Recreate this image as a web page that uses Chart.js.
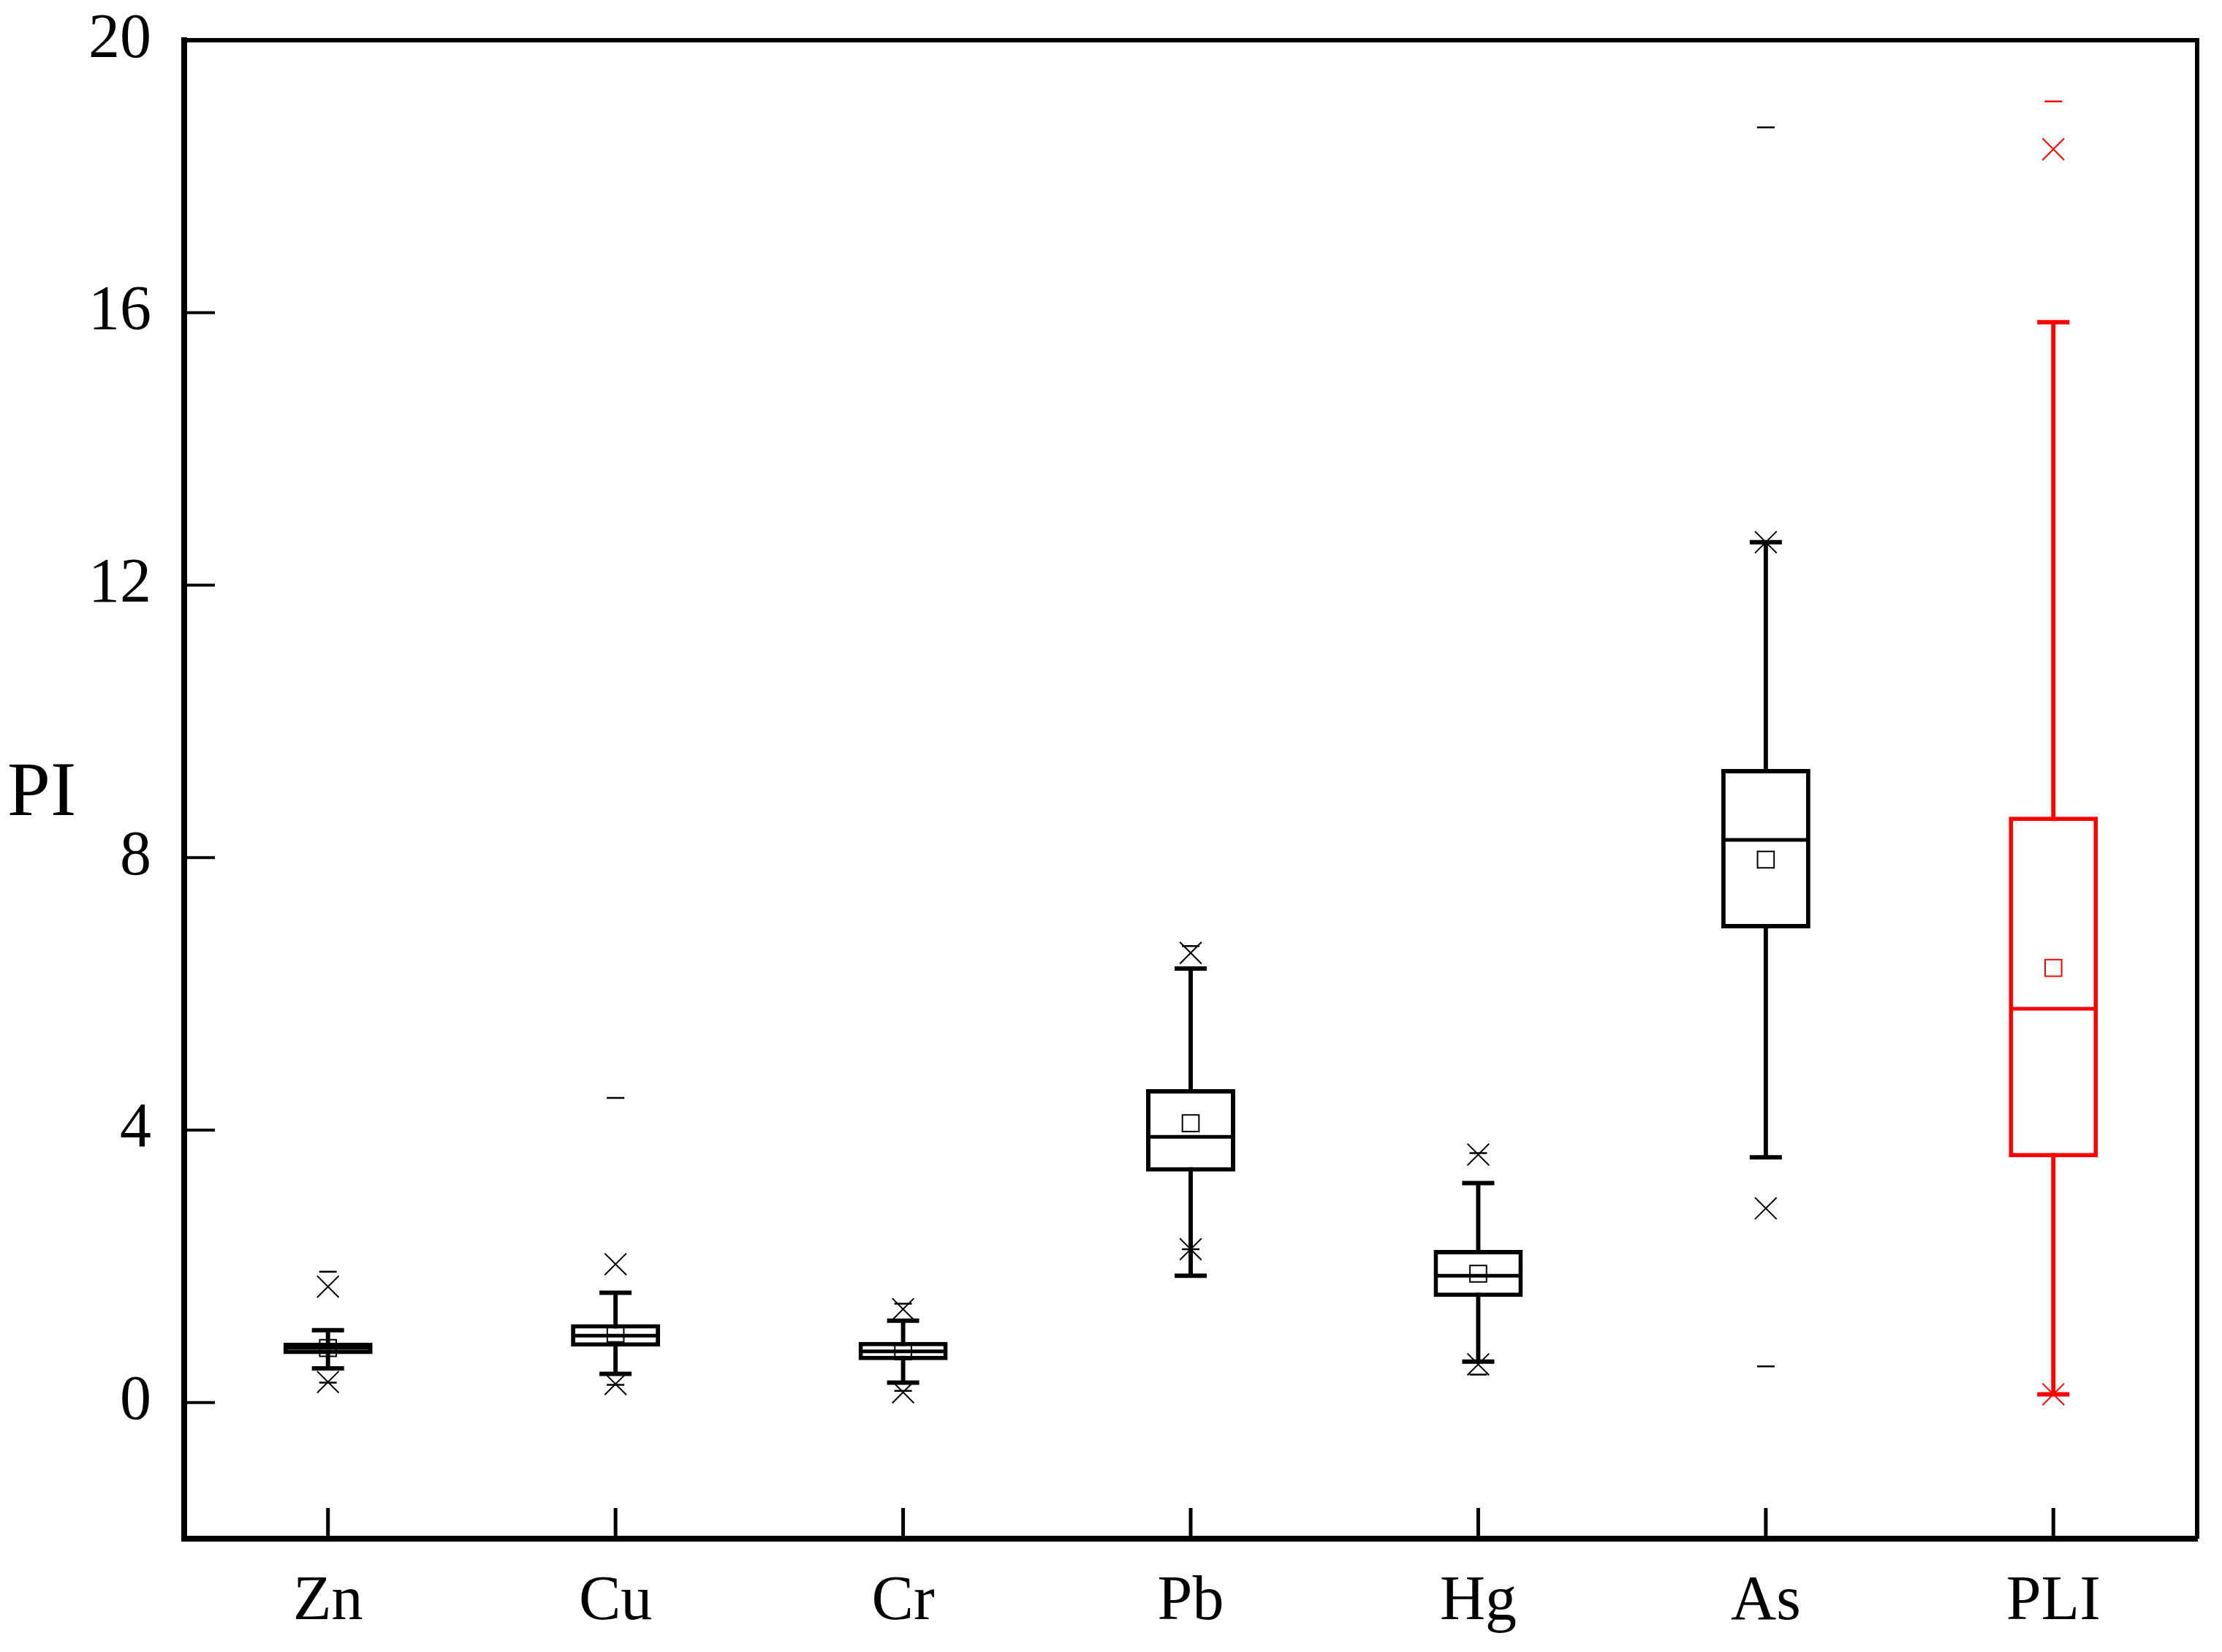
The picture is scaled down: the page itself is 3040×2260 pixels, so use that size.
<!DOCTYPE html>
<html>
<head>
<meta charset="utf-8">
<script src="https://cdn.jsdelivr.net/npm/chart.js@4.4.1/dist/chart.umd.min.js"></script>
<style>
  html, body { margin: 0; padding: 0; background: #fff; }
  #wrap { width: 3040px; height: 2260px; }
</style>
</head>
<body>
<div id="wrap"><canvas id="boxChart" width="3040" height="2260"></canvas></div>
<script>
const categories = ['Zn', 'Cu', 'Cr', 'Pb', 'Hg', 'As', 'PLI'];
const q1 = [0.71, 0.82, 0.62, 3.39, 1.55, 6.96, 3.60];
const q3 = [0.88, 1.15, 0.89, 4.60, 2.24, 9.30, 8.60];
const medians = [0.80, 0.98, 0.75, 3.90, 1.86, 8.26, 5.78];
const means = [0.80, 1.01, 0.75, 4.10, 1.89, 7.97, 6.38];
const whiskerLow = [0.50, 0.42, 0.29, 1.86, 0.60, 3.60, 0.12];
const whiskerHigh = [1.06, 1.61, 1.20, 6.37, 3.22, 12.63, 15.86];
const pct1 = [0.30, 0.27, 0.15, 2.25, 0.56, 2.85, 0.12];
const pct99 = [1.70, 2.03, 1.37, 6.60, 3.64, 12.63, 18.40];
const minVals = [0.29, 0.26, 0.17, 2.25, 0.41, 0.53, 0.12];
const maxVals = [1.92, 4.47, 1.45, 6.70, 3.66, 18.72, 19.10];
const yTicks = [0, 4, 8, 12, 16, 20];
const yTitle = 'PI';

const colors = categories.map(c => c === 'PLI' ? '#ff0000' : '#000000');
const FONT = "'Liberation Serif', 'Times New Roman', serif";

function markers(values, style, radius, width, order) {
    return {
        type: 'line',
        data: values,
        showLine: false,
        pointStyle: style,
        pointRadius: radius,
        pointHoverRadius: radius,
        pointBorderWidth: width,
        pointBorderColor: colors,
        pointBackgroundColor: 'rgba(0,0,0,0)',
        order: order
    };
}

// scales should not push the plot area around, layout.padding decides it
function noScalePadding(scale) {
    scale.paddingTop = 0;
    scale.paddingBottom = 0;
    scale.paddingLeft = 0;
    scale.paddingRight = 0;
}

// inward ticks, top/right frame and the horizontal axis title
const framePlugin = {
    id: 'frame',
    afterDraw(chart) {
        const { ctx, chartArea, scales } = chart;
        ctx.save();
        ctx.strokeStyle = '#000';
        ctx.lineWidth = 6;
        ctx.beginPath();
        ctx.moveTo(chartArea.left, chartArea.top);
        ctx.lineTo(chartArea.right, chartArea.top);
        ctx.lineTo(chartArea.right, chartArea.bottom);
        ctx.stroke();

        ctx.lineWidth = 5;
        categories.forEach((c, i) => {
            const x = scales.x.getPixelForValue(i);
            ctx.beginPath();
            ctx.moveTo(x, chartArea.bottom);
            ctx.lineTo(x, chartArea.bottom - 42);
            ctx.stroke();
        });
        ctx.lineWidth = 4;
        yTicks.forEach(v => {
            const y = scales.y.getPixelForValue(v);
            ctx.beginPath();
            ctx.moveTo(chartArea.left, y);
            ctx.lineTo(chartArea.left + 42, y);
            ctx.stroke();
        });

        ctx.fillStyle = '#000';
        ctx.font = '106px ' + FONT;
        ctx.textAlign = 'left';
        ctx.textBaseline = 'alphabetic';
        ctx.fillText(yTitle, 10, (chartArea.top + chartArea.bottom) / 2 + 35);
        ctx.restore();
    }
};

const ctx = document.getElementById('boxChart').getContext('2d');
new Chart(ctx, {
    type: 'bar',
    data: {
        labels: categories,
        datasets: [
            {
                type: 'bar',
                data: whiskerLow.map((v, i) => [v, whiskerHigh[i]]),
                backgroundColor: colors,
                borderWidth: 0,
                barPercentage: 0.015,
                categoryPercentage: 1,
                grouped: false,
                order: 10
            },
            {
                type: 'bar',
                data: q1.map((v, i) => [v, q3[i]]),
                backgroundColor: '#ffffff',
                borderColor: colors,
                borderWidth: 6,
                borderSkipped: false,
                barPercentage: 0.31,
                categoryPercentage: 1,
                grouped: false,
                order: 9
            },
            markers(medians, 'line', 58, 5, 5),
            markers(whiskerLow, 'line', 22, 6, 5),
            markers(whiskerHigh, 'line', 22, 6, 5),
            markers(means, 'rect', 16, 2, 4),
            markers(pct1, 'crossRot', 21, 2, 3),
            markers(pct99, 'crossRot', 21, 2, 3),
            markers(minVals, 'line', 12, 2.5, 3),
            markers(maxVals, 'line', 12, 2.5, 3)
        ]
    },
    options: {
        responsive: false,
        devicePixelRatio: 1,
        animation: false,
        layout: { autoPadding: false, padding: { left: 0, top: 55, right: 34, bottom: 0 } },
        plugins: {
            legend: { display: false },
            tooltip: { enabled: false }
        },
        scales: {
            x: {
                type: 'category',
                offset: true,
                grid: { display: false, drawTicks: false },
                border: { display: true, width: 8, color: '#000' },
                ticks: { color: '#000', padding: 36, font: { family: FONT, size: 86 } },
                afterFit(scale) { scale.height = 155; noScalePadding(scale); }
            },
            y: {
                type: 'linear',
                min: -2,
                max: 20,
                grid: { display: false, drawTicks: false },
                border: { display: true, width: 8, color: '#000' },
                ticks: { color: '#000', padding: 45, font: { family: FONT, size: 86 } },
                afterBuildTicks(scale) { scale.ticks = yTicks.map(v => ({ value: v })); },
                afterFit(scale) { scale.width = 252; noScalePadding(scale); }
            }
        }
    },
    plugins: [framePlugin]
});
</script>
</body>
</html>
